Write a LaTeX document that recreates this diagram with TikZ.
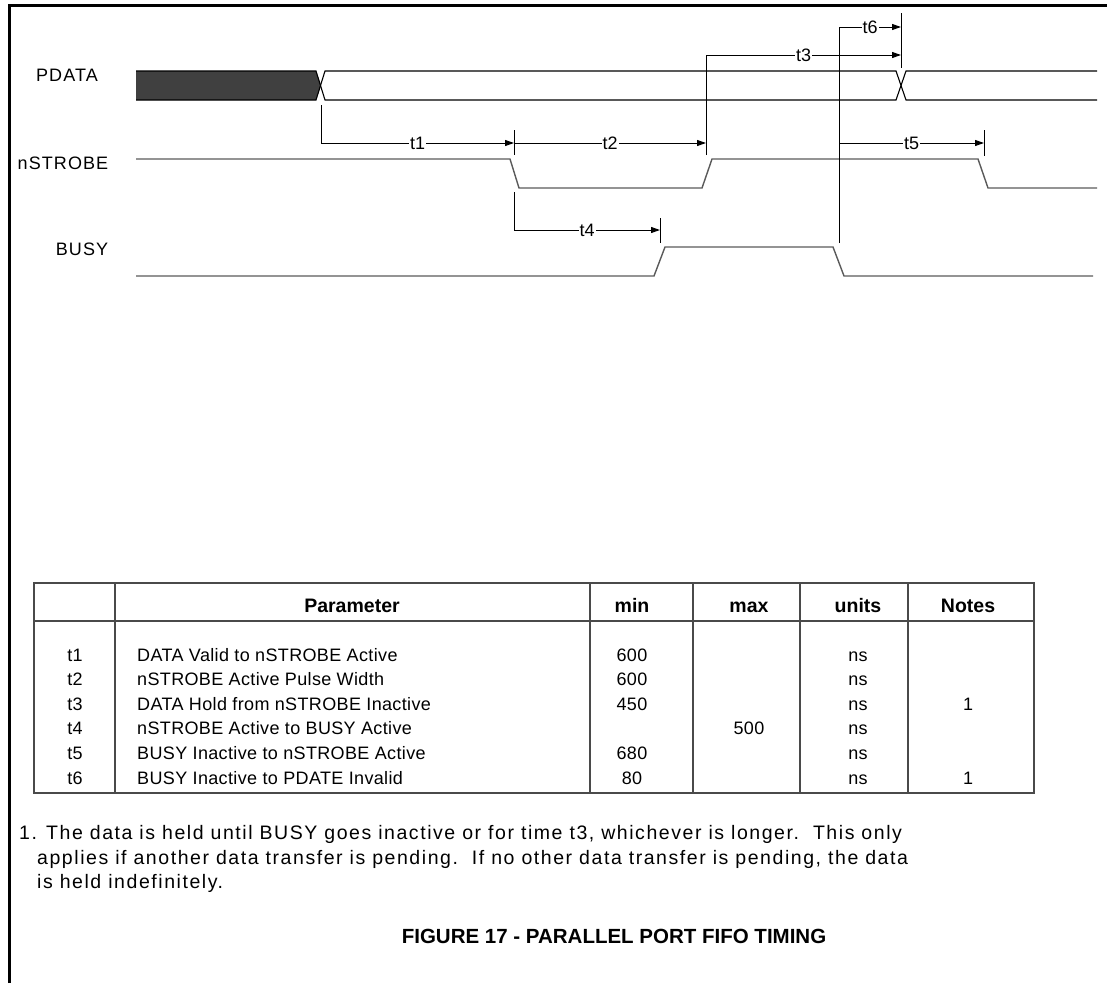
\documentclass[tikz,border=0pt]{standalone}
\usepackage{fontspec}
\setmainfont{Liberation Sans}
\newfontfamily\spfont[LetterSpace=6]{Liberation Sans}
\newfontfamily\tabfont[LetterSpace=2]{Liberation Sans}
\newfontfamily\notefont[LetterSpace=8]{Liberation Sans}
\usetikzlibrary{positioning,arrows.meta}
\definecolor{busfill}{HTML}{404040}
\definecolor{wavegray}{HTML}{5A5A5A}
\definecolor{rulegray}{HTML}{4A4A4A}

\begin{document}
\begin{tikzpicture}[x=1pt,y=-1pt,
    wave/.style={draw=wavegray, line width=1.4pt},
    bus/.style={draw=black, line width=1.1pt},
    dim/.style={draw=black, line width=1pt},
    dimarr/.style={dim, -{Triangle[length=9pt,width=6pt]}},
    tlbl/.style={fill=white, inner sep=1pt, font=\fontsize{18}{18}\selectfont},
    siglbl/.style={font=\spfont\fontsize{18}{18}\selectfont},
    cell/.style={font=\tabfont\fontsize{18}{18}\selectfont, inner sep=0pt, anchor=base},
    note/.style={font=\notefont\fontsize{19.5}{19.5}\selectfont, inner sep=0pt, anchor=base west},
    head/.style={font=\bfseries\fontsize{19.5}{19.5}\selectfont, inner sep=0pt, anchor=base}]
  \useasboundingbox (0,0) rectangle (1107,983);
  % frame
  \draw[line width=3pt] (9,983) -- (9,5) -- (1107,5);

  % signal names
  \node[siglbl] (pdata) at (67,75) {PDATA};
  \node[siglbl] (nstrobe) at (63,163) {nSTROBE};
  \node[siglbl] (busy) at (82,249) {BUSY};

  % PDATA bus
  \fill[busfill] (136,71) -- (316,71) -- (321,85.5) -- (316,100) -- (136,100) -- cycle;
  \draw[bus] (136,71) -- (316,71) -- (325,100) -- (896,100) -- (906,71) -- (1097,71);
  \draw[bus] (136,100) -- (316,100) -- (325,71) -- (896,71) -- (906,100) -- (1097,100);

  % nSTROBE and BUSY
  \draw[wave] (136,159) -- (510,159) -- (519,188) -- (702,188) -- (712,159)
    -- (978,159) -- (988,188) -- (1097,188);
  \draw[wave] (136,276) -- (654,276) -- (665,247) -- (833,247) -- (844,276) -- (1093,276);

  % timing marks
  \coordinate (dvalid) at (321,105);
  \coordinate (sfall) at (514,143);
  \coordinate (sfall2) at (514,192);
  \coordinate (srise) at (706,155);
  \coordinate (bfall) at (839,243);
  \coordinate (dinv) at (901,55);
  \coordinate (dinv2) at (901,27);
  \coordinate (bset) at (660,230);
  \coordinate (snext) at (984,143);

  \draw[dimarr] (dvalid) |- (sfall) node[tlbl, pos=0.75] {t1};
  \draw[dimarr] (sfall) -- (srise |- sfall) node[tlbl, midway] {t2};
  \draw[dimarr] (srise) |- (dinv) node[tlbl, pos=0.75] {t3};
  \draw[dimarr] (sfall2) |- (bset) node[tlbl, pos=0.75] {t4};
  \draw[dimarr] (bfall |- sfall) -- (snext) node[tlbl, midway] {t5};
  \draw[dimarr] (bfall) |- (dinv2) node[tlbl, pos=0.75] {t6};

  % end ticks
  \draw[dim] (514,130) -- (514,155);
  \draw[dim] (901,13) -- (901,68);
  \draw[dim] (984,130) -- (984,156);
  \draw[dim] (660,218) -- (660,243);

  % table
  \draw[rulegray, line width=1.3pt] (34,583) rectangle (1034,793);
  \draw[rulegray, line width=1.3pt] (34,621) -- (1034,621);
  \foreach \cx in {115,590,693,800,908}
    \draw[rulegray, line width=1.2pt] (\cx,583) -- (\cx,793);
  \node[head] (hpar) at (352,612) {Parameter};
  \node[head] (hmin) at (632,612) {min};
  \node[head] (hmax) at (749,612) {max};
  \node[head] (hunit) at (858,612) {units};
  \node[head] (hnote) at (968,612) {Notes};
  \foreach \tn/\pname/\vmin/\vmax/\vnote [count=\i] in
      {t1/{DATA Valid to nSTROBE Active}/600//,
       t2/{nSTROBE Active Pulse Width}/600//,
       t3/{DATA Hold from nSTROBE Inactive}/450//1,
       t4/{nSTROBE Active to BUSY Active}//500/,
       t5/{BUSY Inactive to nSTROBE Active}/680//,
       t6/{BUSY Inactive to PDATE Invalid}/80//1} {
    \node[cell] (row\i) at (75,{661+24.6*(\i-1)}) {\tn};
    \node[cell, anchor=base west] at (137,{661+24.6*(\i-1)}) {\pname};
    \node[cell] at (632,{661+24.6*(\i-1)}) {\vmin};
    \node[cell] at (749,{661+24.6*(\i-1)}) {\vmax};
    \node[cell] at (858,{661+24.6*(\i-1)}) {ns};
    \node[cell] at (968,{661+24.6*(\i-1)}) {\vnote};
  }

  % note and caption
  \node[note] (fnum) at (19,839) {1.};
  \node[note] (fn1) at (46,839)
    {The data is held until BUSY goes inactive or for time t3, whichever is longer.\ \ This only};
  \node[note] (fn2) at (37,864)
    {applies if another data transfer is pending.\ \ If no other data transfer is pending, the data};
  \node[note] (fn3) at (37,888) {is held indefinitely.};
  \node[font=\bfseries\fontsize{20.5}{20.5}\selectfont] (caption) at (614,936)
    {FIGURE 17 - PARALLEL PORT FIFO TIMING};
\end{tikzpicture}
\end{document}
